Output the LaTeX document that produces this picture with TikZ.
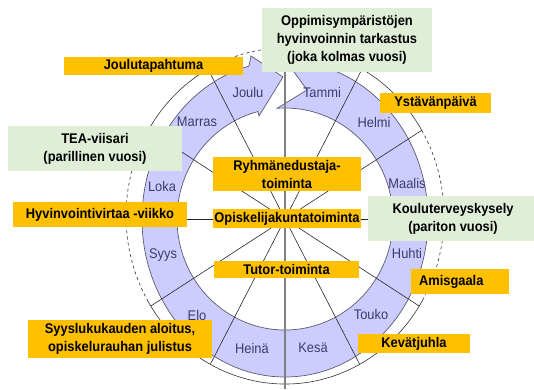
\documentclass[tikz,border=0pt]{standalone}
\usepackage{fontspec}
\setmainfont{Liberation Sans}[FakeStretch=0.92]
\usepackage{tikz}
\usetikzlibrary{calc}

\definecolor{orangebox}{RGB}{255,192,0}
\definecolor{greenbox}{RGB}{224,238,216}
\definecolor{bandfill}{RGB}{204,204,255}
\definecolor{bandline}{RGB}{90,90,110}
\definecolor{monthtext}{RGB}{62,58,110}

\begin{document}
\begin{tikzpicture}[x=1pt,y=1pt,
	event/.style={fill=orangebox, inner sep=0pt, align=center, font=\fontsize{14}{18}\selectfont\bfseries},
	survey/.style={fill=greenbox, inner sep=0pt, align=center, font=\fontsize{14}{18}\selectfont\bfseries},
	month/.style={text=monthtext, font=\fontsize{14}{16}\selectfont},
	monthband/.style={fill=bandfill, draw=bandline, line width=0.7pt},
	spoke/.style={draw=black!85, line width=0.6pt},
	ring/.style={draw=black!80, line width=0.6pt}]
	\useasboundingbox (0,0) rectangle (534,389);
	\coordinate (hub) at (285,170);

	\begin{scope}[shift={(hub)}]
		% months as one circular arrow, Tammi -> Joulu
		\draw[monthband] (89.5:143 and 158) arc[start angle=89.5, end angle=-255.4, x radius=143, y radius=158] -- (-34,163) -- (-2,142) -- (-26,103) -- (104.5:108 and 111) arc[start angle=104.5, end angle=454.2, x radius=108, y radius=111] -- (22,129) -- cycle;
		\begin{scope}
			\clip (0,3) ellipse [x radius=159, y radius=168];
			\foreach \a in {0,30,60,120,150,180,210,240,300,330}
				\draw[spoke] (0,0) -- (\a:178 and 200);
		\end{scope}
		\foreach \s/\e in {30/90,120/150,210/330}
			\draw[ring] (0,3) ++(\s:159 and 168) arc[start angle=\s, end angle=\e, x radius=159, y radius=168];
		\foreach \s/\e in {90/120,150/210,330/390}
			\draw[ring, dashed] (0,3) ++(\s:159 and 168) arc[start angle=\s, end angle=\e, x radius=159, y radius=168];
	\end{scope}
	\draw[gray, line width=1.5pt] (285,0) -- (285,380);

	\foreach \m/\x/\y [count=\i] in {Joulu/248/297, Tammi/322/297, Helmi/374/267, Maalis/407/206, Huhti/407/136, Touko/371/75, Kesä/313/41, Heinä/252/41, Elo/197/74, Syys/163/134, Loka/162/203, Marras/197/267}
		\node[month] (month\i) at (\x,\y) {\m};

	\node[survey, minimum width=170pt, minimum height=64pt] (envcheck) at (347,349) {Oppimisympäristöjen\\hyvinvoinnin tarkastus\\(joka kolmas vuosi)};
	\node[event, minimum width=179pt, minimum height=18pt] (xmasparty) at (153.5,323) {Joulutapahtuma};
	\node[event, minimum width=111pt, minimum height=20pt] (valentine) at (435.5,286) {Ystävänpäivä};
	\node[survey, minimum width=174pt, minimum height=45pt] (teasurvey) at (95,240.5) {TEA-viisari\\(parillinen vuosi)};
	\node[event, minimum width=148pt, minimum height=34pt] (groupreps) at (287,215) {Ryhmänedustaja-\\toiminta};
	\node[event, minimum width=174pt, minimum height=25pt] (wellweek) at (100,174.5) {Hyvinvointivirtaa -viikko};
	\node[event, minimum width=148pt, minimum height=19pt] (union) at (287,170.5) {Opiskelijakuntatoiminta};
	\node[survey, minimum width=170pt, minimum height=45pt] (healthsurvey) at (453,170.5) {Kouluterveyskysely\\(pariton vuosi)};
	\node[event, minimum width=145pt, minimum height=17pt] (tutoring) at (286.5,119.5) {Tutor-toiminta};
	\node[event, text width=82pt, inner xsep=8pt, minimum height=25pt, align=left] (gala) at (460,107.5) {Amisgaala};
	\node[event, minimum width=184pt, minimum height=38pt] (termstart) at (120,50) {Syyslukukauden aloitus,\\opiskelurauhan julistus};
	\node[event, minimum width=112pt, minimum height=19pt] (springfest) at (414,45.5) {Kevätjuhla};
\end{tikzpicture}
\end{document}
